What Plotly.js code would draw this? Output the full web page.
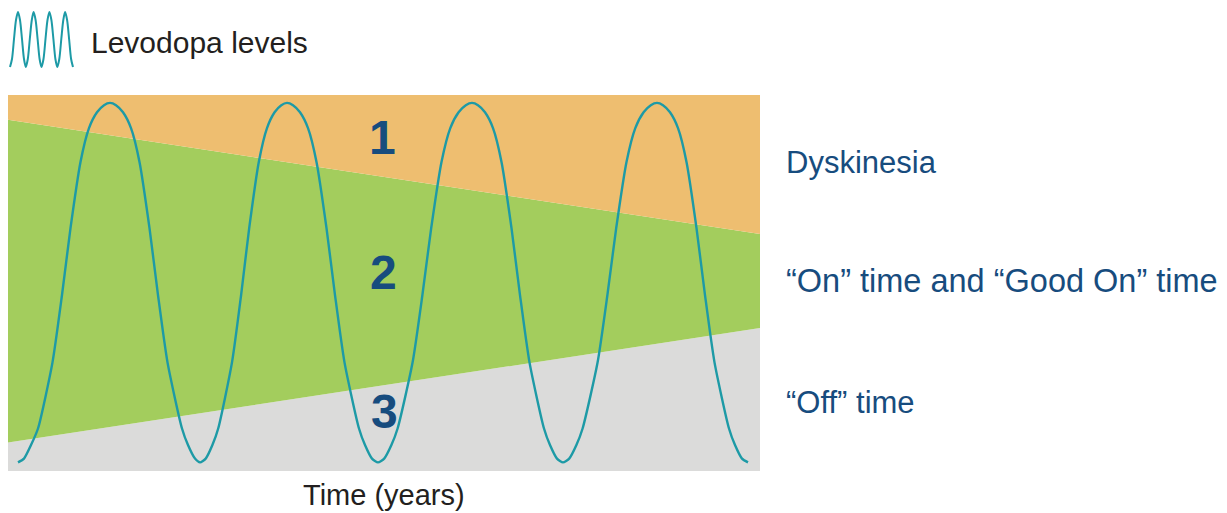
<!DOCTYPE html>
<html>
<head>
<meta charset="utf-8">
<script src="https://cdn.plot.ly/plotly-3.0.1.min.js"></script>
<style>html,body{margin:0;padding:0;background:#fff;}#chart{width:1227px;height:513px;}</style>
</head>
<body>
<div id="chart"></div>
<script>
// ---- Data (time in arbitrary units, levels in % of plot height) ----
const boundaryX = [0, 752];
const offTopY = [7.6, 38.0];        // upper edge of "Off" zone
const onTopY = [93.4, 63.0];        // upper edge of "On" zone (start of dyskinesia)
const dyskTopY = [100, 100];        // top of dyskinesia zone

const levodopaX = [10,
  16, 23, 30, 44.5, 54, 62.5, 72.5, 81, 89, 96, 102, 108, 115, 123, 131.5, 141.5, 150, 159.5, 174, 180, 187, 192,
  197.7, 204.4, 210.2, 224, 233.1, 241.2, 250.8, 259, 266.6, 273.3, 279, 285, 292, 300, 308.5, 318.5, 327, 336.5, 351, 357, 364, 370,
  376.2, 383.4, 389.6, 404.6, 414.4, 423.2, 433.5, 442.3, 450.6, 457.8, 464, 470, 477, 485, 493.5, 503.5, 512, 521.5, 536, 542, 549, 555,
  561.2, 568.4, 574.6, 589.6, 599.4, 608.2, 618.5, 627.3, 635.6, 642.8, 649, 655, 662, 670, 678.5, 688.5, 697, 706.5, 721, 727, 734, 740];
const levodopaY = [2.3,
  3.3, 6.9, 11.3, 28.9, 46.8, 64.6, 82.2, 91.2, 95.4, 97.3, 97.9, 97.3, 95.4, 91.2, 82.2, 64.6, 46.8, 28.9, 11.3, 6.9, 3.3, 2.3,
  3.3, 6.9, 11.3, 28.9, 46.8, 64.6, 82.2, 91.2, 95.4, 97.3, 97.9, 97.3, 95.4, 91.2, 82.2, 64.6, 46.8, 28.9, 11.3, 6.9, 3.3, 2.3,
  3.3, 6.9, 11.3, 28.9, 46.8, 64.6, 82.2, 91.2, 95.4, 97.3, 97.9, 97.3, 95.4, 91.2, 82.2, 64.6, 46.8, 28.9, 11.3, 6.9, 3.3, 2.3,
  3.3, 6.9, 11.3, 28.9, 46.8, 64.6, 82.2, 91.2, 95.4, 97.3, 97.9, 97.3, 95.4, 91.2, 82.2, 64.6, 46.8, 28.9, 11.3, 6.9, 3.3, 2.3];

const iconX = [0, 2, 4, 6, 8, 10, 12, 14, 15.8, 17.8, 19.8, 21.8, 23.6, 25.6, 27.6, 29.6,
               31.5, 33.5, 35.5, 37.5, 39.4, 41.4, 43.4, 45.4, 47.3, 49.3, 51.3, 53.3, 55.1, 57.1, 59.1, 61.1, 63];
const iconY = [0, 8, 28, 47, 55, 47, 28, 8, 0, 8, 28, 47, 55, 47, 28, 8,
               0, 8, 28, 47, 55, 47, 28, 8, 0, 8, 28, 47, 55, 47, 28, 8, 0];

const zoneLabels = ['1', '2', '3'];
const zoneX = [374, 375, 376];
const zoneY = [88.8, 52.8, 15.9];

const zoneNames = ['Dyskinesia', '\u201cOn\u201d time and \u201cGood On\u201d time', '\u201cOff\u201d time'];
const zoneNameY = [163, 281, 402];   // pixel rows of the right-hand labels
const zoneNameSize = [31, 32.5, 31];

const legendText = 'Levodopa levels';
const xTitle = 'Time (years)';

// ---- Styling ----
const W = 1227, H = 513;
const FONT = '"Liberation Sans", Arial, Helvetica, sans-serif';
const BLUE = '#174C7E';

const traces = [
  {x: boundaryX, y: offTopY, mode: 'lines', line: {width: 0}, fill: 'tozeroy', fillcolor: '#DBDBDA', hoverinfo: 'skip', showlegend: false},
  {x: boundaryX, y: onTopY, mode: 'lines', line: {width: 0}, fill: 'tonexty', fillcolor: '#A3CD5D', hoverinfo: 'skip', showlegend: false},
  {x: boundaryX, y: dyskTopY, mode: 'lines', line: {width: 0}, fill: 'tonexty', fillcolor: '#EEBE70', hoverinfo: 'skip', showlegend: false},
  {x: levodopaX, y: levodopaY, mode: 'lines', line: {color: '#1D9AA6', width: 2.4, shape: 'spline', smoothing: 0.6}, showlegend: false},
  {x: iconX, y: iconY, xaxis: 'x2', yaxis: 'y2', mode: 'lines', line: {color: '#1D9AA6', width: 2, shape: 'spline', smoothing: 0.8}, showlegend: false}
];

const annotations = [];
zoneLabels.forEach((t, i) => annotations.push({
  x: zoneX[i], y: zoneY[i], xref: 'x', yref: 'y', text: '<b>' + t + '</b>', showarrow: false,
  font: {family: FONT, size: 48, color: BLUE}, xanchor: 'center', yanchor: 'middle'
}));
zoneNames.forEach((t, i) => annotations.push({
  x: 784 / W, y: 1 - zoneNameY[i] / H, xref: 'paper', yref: 'paper', text: t, showarrow: false,
  font: {family: FONT, size: zoneNameSize[i], color: BLUE}, xanchor: 'left', yanchor: 'middle'
}));
annotations.push({
  x: 89 / W, y: 1 - 42 / H, xref: 'paper', yref: 'paper', text: legendText, showarrow: false,
  font: {family: FONT, size: 30, color: '#231F20'}, xanchor: 'left', yanchor: 'middle'
});
annotations.push({
  x: 384 / W, y: 1 - 495 / H, xref: 'paper', yref: 'paper', text: xTitle, showarrow: false,
  font: {family: FONT, size: 29, color: '#231F20'}, xanchor: 'center', yanchor: 'middle'
});

const axisOff = {showgrid: false, zeroline: false, showticklabels: false, ticks: '', showline: false, fixedrange: true};

const layout = {
  width: W, height: H,
  margin: {l: 0, r: 0, t: 0, b: 0},
  paper_bgcolor: '#ffffff', plot_bgcolor: 'rgba(0,0,0,0)',
  showlegend: false,
  xaxis: Object.assign({}, axisOff, {domain: [8 / W, 760 / W], range: [0, 752]}),
  yaxis: Object.assign({}, axisOff, {domain: [1 - 471 / H, 1 - 95 / H], range: [0, 100]}),
  xaxis2: Object.assign({}, axisOff, {domain: [9 / W, 74 / W], range: [-1, 64], anchor: 'y2'}),
  yaxis2: Object.assign({}, axisOff, {domain: [1 - 68 / H, 1 - 11 / H], range: [-1, 56], anchor: 'x2'}),
  annotations: annotations
};

Plotly.newPlot('chart', traces, layout, {displayModeBar: false, staticPlot: true});
</script>
</body>
</html>
